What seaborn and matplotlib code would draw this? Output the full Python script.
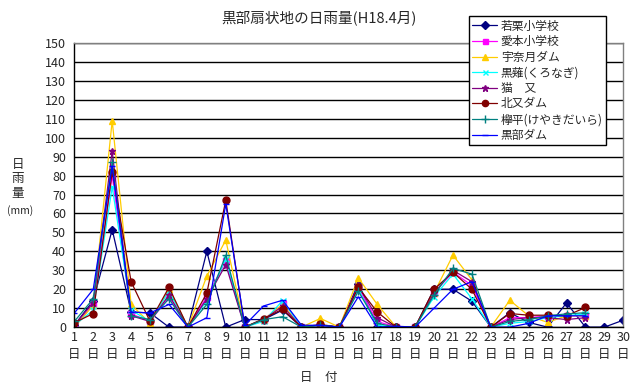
import numpy as np
import pandas as pd
import matplotlib
matplotlib.use("Agg")
import matplotlib.pyplot as plt
import seaborn as sns

days = list(range(1, 31))
nan = np.nan

wakaguri = [1, 14, 51.5, 8, 7.5, 0, 0, 40, 0, 4, 4, 9, 0, 1, 0, 23, 0, 0, 0, 20, 20, 13.7, 0, 7.6, 2.5, 0, 12.8, 0, 0, 3.7]
aimoto = [0, 12, 80, 7, 3, 16, 0, 16, 35, 0, 4, 12, 0, 1, 0, 21, 3, 0, 0, 18, 29, 22, 0, 5, 5, 6, 6, 6, nan, nan]
unazuki = [0, 11.6, 109, 12, 2, 20, 0, 27, 46, 0, 4, 12, 0, 4.6, 0, 26, 12, 0, 0, 18, 38, 25, 0, 14.2, 6, 2.5, 6, 6, nan, nan]
kuronagi = [1, 9, 74, 9, 3, 19, 0, 14, 36, 0, 3, 14, 0, 1, 0, 20, 1, 0, 0, 16, 28, 15, 0, 2, 3, 5, 6, 7, nan, nan]
nekomata = [1, 13, 93, 6, 3, 17, 0, 15, 33, 0, 4, 11, 0, 1, 0, 22, 5, 0, 0, 18, 30, 24, 0, 4, 5, 5, 4, 5, nan, nan]
kitamata = [2.3, 7.2, 82, 24, 3, 21, 0, 18, 67, 0, 4.5, 9.5, 0, 1.4, 0, 21, 8, 0, 0, 20, 29, 20, 0, 7.2, 6.3, 6.3, 6, 10.4, nan, nan]
keyakidaira = [3, 15, 87, 6, 4, 15, 0, 12, 38, 0, 4, 5.5, 0, 1, 0, 19, 2, 0, 0, 17, 31, 28, 0, 3, 4, 6, 7, 7.6, nan, nan]
kurobedam = [7.4, 20, 85, 8, 7.5, 12, 0, 5, 65, 1, 11.2, 14.2, 1, 1, 0, 16, 0, 0.5, 0, 10, 20, 24, 0, 0, 2, 6, 6, 6, nan, nan]

names = ["若栗小学校", "愛本小学校", "宇奈月ダム", "黒薙(くろなぎ)", "猫　又", "北又ダム", "欅平(けやきだいら)", "黒部ダム"]
series = [wakaguri, aimoto, unazuki, kuronagi, nekomata, kitamata, keyakidaira, kurobedam]
colors = ["#000080", "#FF00FF", "#FFCC00", "#00FFFF", "#800080", "#800000", "#008080", "#0000FF"]
markers = ["D", "s", "^", "x", "*", "o", "+", "_"]
msizes = [4, 4, 5, 4, 5, 5, 6, 5]

xticklabels = [f"{d}\n日" for d in days]

sns.set_theme(style="white")
plt.rcParams['font.family'] = ['Noto Sans CJK JP', 'DejaVu Sans']

fig = plt.figure(figsize=(6.38, 3.89), dpi=100)
ax = fig.add_axes([0.1165, 0.159, 0.8605, 0.7305])

for name, vals, c, m, ms in zip(names, series, colors, markers, msizes):
    df = pd.DataFrame({"day": days, "val": vals})
    sns.lineplot(data=df, x="day", y="val", ax=ax, color=c, marker=m,
                 markersize=ms, linewidth=0.9, label=name,
                 markeredgecolor=c, markeredgewidth=1.0)

ax.set_xlim(1, 30)
ax.set_ylim(0, 150)
ax.set_yticks(range(0, 151, 10))
ax.set_xticks(days)
ax.set_xticklabels(xticklabels, fontsize=9, linespacing=1.4)
ax.tick_params(axis='y', labelsize=9, length=0, pad=6)
ax.tick_params(axis='x', length=0, pad=3)
ax.yaxis.grid(True, color='black', linewidth=1.0)
ax.set_axisbelow(True)
for s in ['top', 'right']:
    ax.spines[s].set_color('#808080')
for s in ['left', 'bottom']:
    ax.spines[s].set_color('black')
for s in ax.spines.values():
    s.set_linewidth(1.0)
ax.set_xlabel("")
ax.set_ylabel("")

fig.text(0.5, 0.955, "黒部扇状地の日雨量(H18.4月)", ha='center', va='center', fontsize=10.5)
fig.text(0.5, 0.03, "日　付", ha='center', va='center', fontsize=9)
fig.text(0.028, 0.54, "日\n雨\n量", ha='center', va='center', fontsize=9, linespacing=1.15)
fig.text(0.032, 0.46, "(mm)", ha='center', va='center', fontsize=7.5)

leg = ax.legend(loc='upper left', bbox_to_anchor=(0.735, 0.959),
                bbox_transform=fig.transFigure, frameon=True,
                fontsize=8.5, handlelength=2.1, borderpad=0.3, labelspacing=0.22,
                handletextpad=0.3, fancybox=False, borderaxespad=0,
                markerscale=0.9)
leg.get_frame().set_edgecolor('black')
leg.get_frame().set_linewidth(1.0)
leg.get_frame().set_facecolor('white')
leg.get_frame().set_alpha(1.0)

fig.savefig("out.png", dpi=100, facecolor='white')
